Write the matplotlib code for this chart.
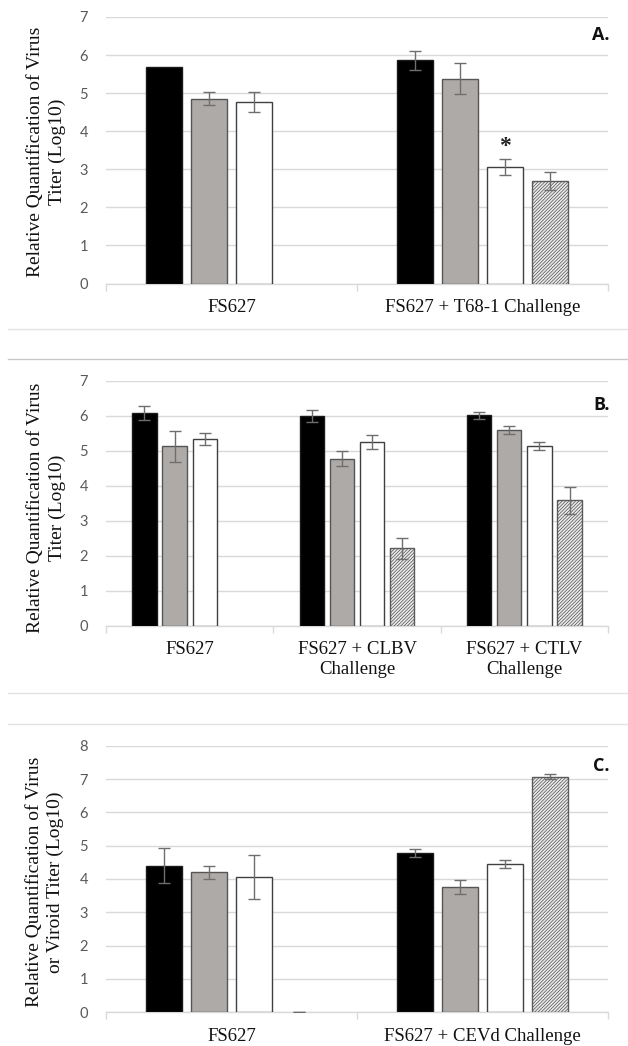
import numpy as np
import matplotlib
matplotlib.use("Agg")
import matplotlib.pyplot as plt
from matplotlib.lines import Line2D

nan = np.nan

# ---------------- data ----------------
cats_A = ["FS627", "FS627 + T68-1 Challenge"]
A_black = [5.69, 5.86]
A_black_err = [nan, 0.26]
A_gray = [4.85, 5.38]
A_gray_err = [0.17, 0.41]
A_white = [4.76, 3.06]
A_white_err = [0.26, 0.22]
A_hatch = [nan, 2.69]
A_hatch_err = [nan, 0.23]

cats_B = ["FS627", "FS627 + CLBV\nChallenge", "FS627 + CTLV\nChallenge"]
B_black = [6.09, 5.99, 6.01]
B_black_err = [0.20, 0.16, 0.11]
B_gray = [5.13, 4.77, 5.60]
B_gray_err = [0.44, 0.21, 0.11]
B_white = [5.34, 5.26, 5.13]
B_white_err = [0.18, 0.20, 0.12]
B_hatch = [nan, 2.21, 3.58]
B_hatch_err = [nan, 0.30, 0.39]

cats_C = ["FS627", "FS627 + CEVd Challenge"]
C_black = [4.40, 4.79]
C_black_err = [0.53, 0.12]
C_gray = [4.20, 3.76]
C_gray_err = [0.20, 0.20]
C_white = [4.06, 4.44]
C_white_err = [0.67, 0.12]
C_hatch = [0.0, 7.07]
C_hatch_err = [0.0, 0.08]

W, H = 628, 1046
fig = plt.figure(figsize=(W / 100, H / 100), dpi=100)

TICK_FONT = ["Lato", "DejaVu Sans"]
SERIF = ["Liberation Serif", "DejaVu Serif"]
GRID = "#d9d9d9"

styles = [
    dict(facecolor="#000000", edgecolor="#1a1a1a", hatch=None),
    dict(facecolor="#aeaaa8", edgecolor="#555555", hatch=None),
    dict(facecolor="#ffffff", edgecolor="#404040", hatch=None),
    dict(facecolor="#ececec", edgecolor="#5a5a5a", hatch="//////////"),
]

plt.rcParams["hatch.color"] = "#9a9a9a"
plt.rcParams["hatch.linewidth"] = 0.55


def fig_rect(top_px, bottom_px, left_px=106, right_px=608):
    return [left_px / W, 1 - bottom_px / H, (right_px - left_px) / W, (bottom_px - top_px) / H]


def draw_panel(rect, cats, series, errs, ymax, letter, letter_y, ylabel, ylabel_y, ylabel_x=46.5):
    ax = fig.add_axes(rect)
    n = len(cats)
    x = np.arange(n)
    slot = 0.18
    bw = 0.145
    offs = (np.arange(4) - 1.5) * slot
    for i, (vals, ev, st) in enumerate(zip(series, errs, styles)):
        vals = np.array(vals, dtype=float)
        ev = np.array(ev, dtype=float)
        xs = x + offs[i]
        mask = ~np.isnan(vals) & (vals > 0)
        ax.bar(xs[mask], vals[mask], width=bw, color=st["facecolor"],
               edgecolor=st["edgecolor"], linewidth=1.0, hatch=st["hatch"], zorder=3)
        emask = ~np.isnan(vals) & ~np.isnan(ev)
        ax.errorbar(xs[emask], vals[emask], yerr=ev[emask], fmt="none",
                    ecolor="#6e6e6e", elinewidth=1.0, capsize=4.5, capthick=1.0, zorder=4)
    ax.set_xlim(-0.5, n - 0.5)
    ax.set_ylim(0, ymax)
    ax.set_yticks(np.arange(0, ymax + 1, 1))
    ax.yaxis.grid(True, color=GRID, linewidth=1.0, zorder=0)
    ax.set_axisbelow(True)
    for s in ["top", "right", "left"]:
        ax.spines[s].set_visible(False)
    ax.spines["bottom"].set_color(GRID)
    ax.spines["bottom"].set_linewidth(1.0)
    ax.set_xticks(x)
    ax.set_xticklabels(cats, fontfamily=SERIF, fontsize=13.5, color="#111111", linespacing=1.2)
    ax.set_xticks(np.arange(-0.5, n, 1.0), minor=True)
    ax.tick_params(axis="x", which="major", length=0, pad=11)
    ax.tick_params(axis="x", which="minor", length=5, color=GRID, width=1.0)
    ax.tick_params(axis="y", length=0, pad=13, labelsize=10.5, labelcolor="#595959")
    for lab in ax.get_yticklabels():
        lab.set_fontfamily(TICK_FONT)
    fig.text(610 / W, 1 - letter_y / H, letter, ha="right", va="center",
             fontsize=13, fontweight="bold", fontfamily=["Open Sans", "DejaVu Sans"], color="#111111")
    fig.text(ylabel_x / W, 1 - ylabel_y / H, ylabel, rotation=90, ha="center", va="center",
             fontsize=14, fontfamily=SERIF, color="#111111", linespacing=1.35,
             multialignment="center")
    return ax, x, offs


axA, xA, offsA = draw_panel(fig_rect(17, 283.5), cats_A,
                            [A_black, A_gray, A_white, A_hatch],
                            [A_black_err, A_gray_err, A_white_err, A_hatch_err],
                            7, "A.", 35, "Relative Quantification of Virus\nTiter (Log10)", 152)
axA.text(xA[1] + offsA[2], 3.6, "*", ha="center", va="center", fontsize=17,
         fontweight="bold", fontfamily=SERIF, color="#222222")

draw_panel(fig_rect(380.7, 625.7), cats_B,
           [B_black, B_gray, B_white, B_hatch],
           [B_black_err, B_gray_err, B_white_err, B_hatch_err],
           7, "B.", 405, "Relative Quantification of Virus\nTiter (Log10)", 508)

draw_panel(fig_rect(745.7, 1012.3), cats_C,
           [C_black, C_gray, C_white, C_hatch],
           [C_black_err, C_gray_err, C_white_err, C_hatch_err],
           8, "C.", 766, "Relative Quantification of Virus\nor Viroid Titer (Log10)", 882, 45)

# chart frame borders
for ypx, col in [(329.3, "#e3e3e3"), (359.3, "#c8c8c8"), (692.7, "#e3e3e3"), (724, "#e3e3e3")]:
    fig.add_artist(Line2D([8 / W, 1.0], [1 - ypx / H] * 2, transform=fig.transFigure,
                          color=col, linewidth=1.0))

fig.savefig("out.png", dpi=100, facecolor="white")
